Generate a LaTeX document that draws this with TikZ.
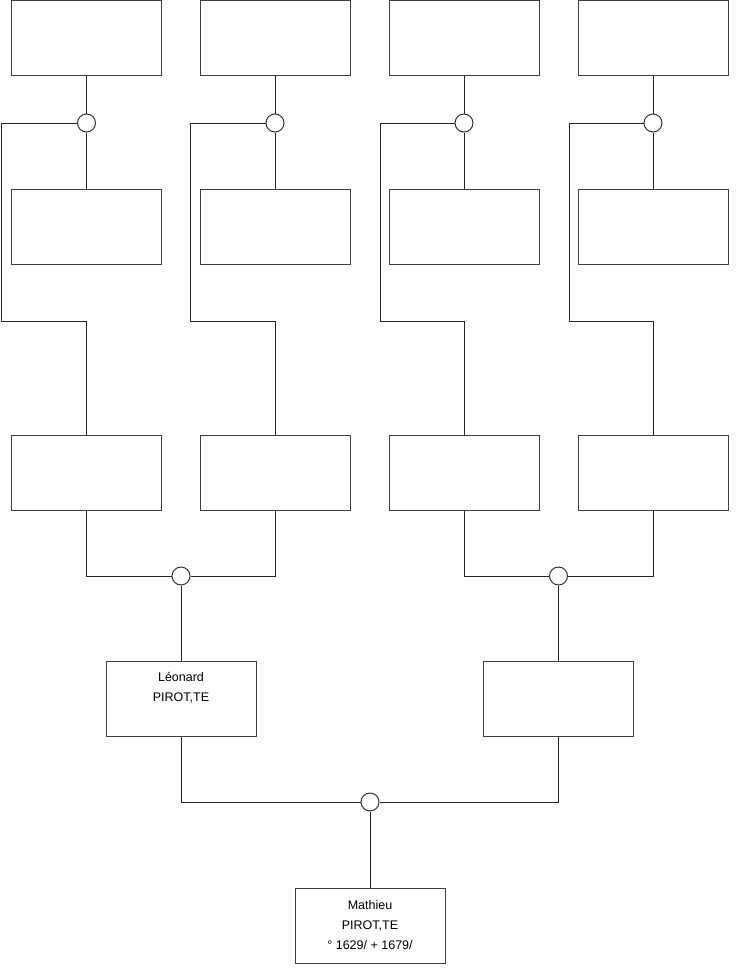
\documentclass[tikz,border=0pt]{standalone}
\usepackage{fontspec}
\setmainfont{Liberation Sans}
\usetikzlibrary{positioning}
\tikzset{
    personbox/.style={draw=black!75, line width=1pt, minimum width=150pt, minimum height=75pt, inner sep=0pt},
    union/.style={circle, draw=black!80, fill=white, line width=1pt, minimum size=18pt, inner sep=0pt},
    link/.style={line width=1pt, black!85},
    persontext/.style={align=center, inner sep=0pt, font=\fontsize{12.5}{20}\selectfont}
}

\begin{document}
\begin{tikzpicture}[x=1pt, y=-1pt]
    \useasboundingbox (0,0) rectangle (740,975);
    % great-grandparents
    \node[personbox] (ga1) at (86.5,38) {};
    \node[personbox] (ga2) at (275,38) {};
    \node[personbox] (ga3) at (464,38) {};
    \node[personbox] (ga4) at (653,38) {};
    \node[personbox] (gb1) at (86.5,227) {};
    \node[personbox] (gb2) at (275,227) {};
    \node[personbox] (gb3) at (464,227) {};
    \node[personbox] (gb4) at (653,227) {};
    % grandparents
    \node[personbox] (gp1) at (86.5,472.5) {};
    \node[personbox] (gp2) at (275,472.5) {};
    \node[personbox] (gp3) at (464,472.5) {};
    \node[personbox] (gp4) at (653,472.5) {};
    % parents
    \node[personbox] (father) at (181,699) {};
    \node[persontext, below=11pt of father.north] {Léonard\\PIROT,TE};
    \node[personbox] (mother) at (558.5,699) {};
    % subject
    \node[personbox] (subject) at (370,925.5) {};
    \node[persontext, below=13pt of subject.north] {Mathieu\\PIROT,TE\\° 1629/ + 1679/};

    % marriages of great-grandparents
    \node[union] (u1) at (86.5,123) {};
    \node[union] (u2) at (275,123) {};
    \node[union] (u3) at (464,123) {};
    \node[union] (u4) at (653,123) {};
    \draw[link] (ga1) -- (u1) -- (gb1);
    \draw[link] (ga2) -- (u2) -- (gb2);
    \draw[link] (ga3) -- (u3) -- (gb3);
    \draw[link] (ga4) -- (u4) -- (gb4);
    \draw[link] (u1.west) -- (1,123) -- (1,321) -| (gp1.north);
    \draw[link] (u2.west) -- (190,123) -- (190,321) -| (gp2.north);
    \draw[link] (u3.west) -- (380,123) -- (380,321) -| (gp3.north);
    \draw[link] (u4.west) -- (569,123) -- (569,321) -| (gp4.north);

    % marriages of grandparents
    \node[union] (u5) at (181,576) {};
    \node[union] (u6) at (558.5,576) {};
    \draw[link] (gp1.south) |- (u5.west);
    \draw[link] (gp2.south) |- (u5.east);
    \draw[link] (u5) -- (father);
    \draw[link] (gp3.south) |- (u6.west);
    \draw[link] (gp4.south) |- (u6.east);
    \draw[link] (u6) -- (mother);

    % marriage of parents
    \node[union] (u7) at (370,802) {};
    \draw[link] (father.south) |- (u7.west);
    \draw[link] (mother.south) |- (u7.east);
    \draw[link] (u7) -- (subject);
\end{tikzpicture}
\end{document}
